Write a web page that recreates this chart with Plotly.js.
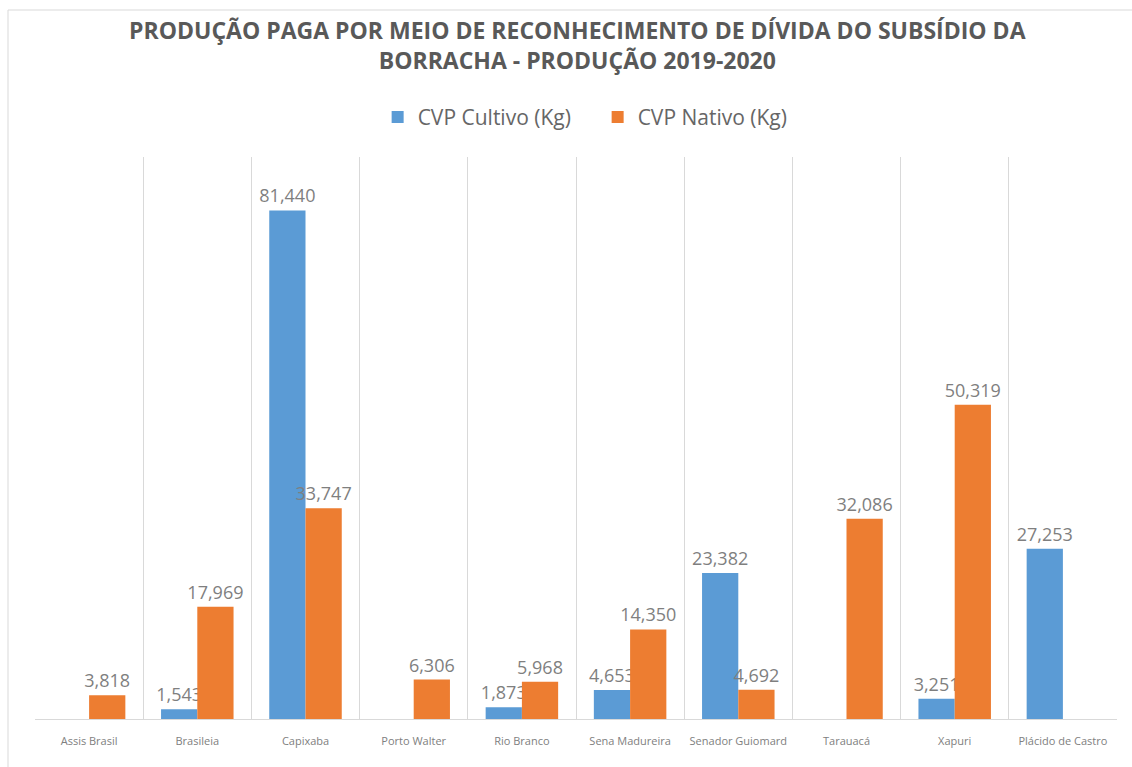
<!DOCTYPE html>
<html>
<head>
<meta charset="utf-8">
<script src="https://cdn.plot.ly/plotly-3.0.1.min.js"></script>
<style>html,body{margin:0;padding:0;background:#fff;}#chart{width:1132px;height:767px;}</style>
</head>
<body>
<div id="chart"></div>
<script>
const categories = ["Assis Brasil", "Brasileia", "Capixaba", "Porto Walter", "Rio Branco", "Sena Madureira", "Senador Guiomard", "Tarauacá", "Xapuri", "Plácido de Castro"];
const cultivo = [null, 1543, 81440, null, 1873, 4653, 23382, null, 3251, 27253];
const nativo = [3818, 17969, 33747, 6306, 5968, 14350, 4692, 32086, 50319, null];
const seriesNames = ["CVP Cultivo (Kg)", "CVP Nativo (Kg)"];
const titleText = "PRODUÇÃO PAGA POR MEIO DE RECONHECIMENTO DE DÍVIDA DO SUBSÍDIO DA<br>BORRACHA - PRODUÇÃO 2019-2020";

const labelFont = {family: "Open Sans, sans-serif", size: 18, color: "#7F7F7F"};

const traces = [
  {type: "bar", name: seriesNames[0], x: categories, y: cultivo, marker: {color: "#5B9BD5"},
   texttemplate: "%{y:,}", textposition: "outside", constraintext: "none", cliponaxis: false,
   textfont: labelFont, hoverinfo: "x+y"},
  {type: "bar", name: seriesNames[1], x: categories, y: nativo, marker: {color: "#ED7D31"},
   texttemplate: "%{y:,}", textposition: "outside", constraintext: "none", cliponaxis: false,
   textfont: labelFont, hoverinfo: "x+y"}
];

const layout = {
  width: 1132, height: 767,
  margin: {l: 35, r: 15, t: 157, b: 48},
  paper_bgcolor: "#fff", plot_bgcolor: "#fff",
  font: {family: "Open Sans, sans-serif", color: "#595959"},
  title: {text: titleText, xref: "container", x: 0.51, xanchor: "center",
          yref: "container", y: 1 - 39/767, yanchor: "top",
          font: {family: "Open Sans, sans-serif", size: 23, color: "#595959", weight: "bold"}},
  barmode: "group", bargap: 0.33, bargroupgap: 0,
  showlegend: true,
  legend: {orientation: "h", x: 0.52, xanchor: "center", yref: "container", y: 0.847, yanchor: "middle",
           font: {size: 21, color: "#666666"}, itemclick: false, entrywidth: 175},
  xaxis: {type: "category", tickson: "boundaries", showgrid: true, gridcolor: "#D9D9D9", gridwidth: 1,
          ticks: "", showline: true, linecolor: "#D9D9D9", linewidth: 1, ticklabelstandoff: 12,
          tickfont: {size: 11, color: "#808080"}, range: [-0.5, 9.5], fixedrange: true},
  yaxis: {range: [0, 90000], showgrid: false, showticklabels: false, zeroline: false, showline: false, ticks: "", fixedrange: true},
  shapes: [
    {type: "rect", xref: "paper", yref: "paper", x0: -27/1082, x1: 1.05, y0: -0.2, y1: (767-10-48)/562,
     line: {color: "#D9D9D9", width: 1}, fillcolor: "rgba(0,0,0,0)", layer: "below"}
  ]
};

Plotly.newPlot("chart", traces, layout, {displayModeBar: false, staticPlot: true});
</script>
</body>
</html>
